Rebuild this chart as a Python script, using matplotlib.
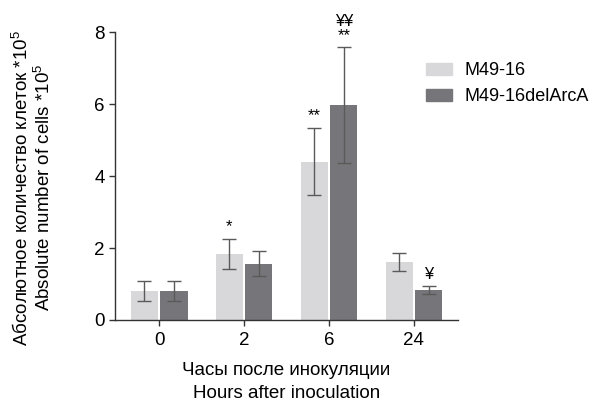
import matplotlib
matplotlib.use("Agg")
import matplotlib.pyplot as plt
import numpy as np
from matplotlib.patches import Patch

plt.rcParams['font.family'] = ['Liberation Sans', 'DejaVu Sans']
plt.rcParams['mathtext.fontset'] = 'custom'
plt.rcParams['mathtext.rm'] = 'Liberation Sans'

categories = ['0', '2', '6', '24']
series_names = ['M49-16', 'M49-16delArcA']
wt_values = [0.80, 1.84, 4.40, 1.62]
wt_err = [0.28, 0.41, 0.93, 0.25]
del_values = [0.80, 1.56, 5.97, 0.84]
del_err = [0.28, 0.35, 1.62, 0.11]
wt_marks = ['', '*', '**', '']
del_marks = ['', '', '**', '¥']
del_marks_top = ['', '', '¥¥', '']

light = '#d8d8da'
dark = '#76767a'
errc = '#5a5a5a'

fig = plt.figure(figsize=(6.03, 4.01), dpi=100)
ax = fig.add_axes([0.1907, 0.202, 0.569, 0.718])

x = np.arange(len(categories))
w = 0.32
off = 0.174
ek = dict(ecolor=errc, elinewidth=1.0, capsize=4.8, capthick=1.0)
ax.bar(x - off, wt_values, w, color=light, yerr=wt_err, error_kw=ek, zorder=2)
ax.bar(x + off, del_values, w, color=dark, yerr=del_err, error_kw=ek, zorder=2)

for i in range(len(categories)):
    if wt_marks[i]:
        ax.text(x[i] - off, wt_values[i] + wt_err[i] + 0.14, wt_marks[i],
                ha='center', va='bottom', fontsize=12)
    if del_marks[i]:
        ax.text(x[i] + off, del_values[i] + del_err[i] + 0.1, del_marks[i],
                ha='center', va='bottom', fontsize=12)
    if del_marks_top[i]:
        ax.text(x[i] + off, del_values[i] + del_err[i] + 0.5, del_marks_top[i],
                ha='center', va='bottom', fontsize=12)

ax.set_xlim(-0.52, 3.52)
ax.set_ylim(0, 8)
ax.set_yticks([0, 2, 4, 6, 8])
ax.set_xticks(x)
ax.set_xticklabels(categories)
ax.tick_params(axis='both', labelsize=13.5, length=4, width=1, color='#333333', direction='out')
ax.tick_params(axis='x', pad=5)
ax.spines['top'].set_visible(False)
ax.spines['right'].set_visible(False)
for s in ['left', 'bottom']:
    ax.spines[s].set_color('#333333')
    ax.spines[s].set_linewidth(1.0)

ax.set_xlabel('Часы после инокуляции\nHours after inoculation', fontsize=13.5, labelpad=9, linespacing=1.45)
ax.set_ylabel('Абсолютное количество клеток *10$^5$\nAbsolute number of cells *10$^5$',
              fontsize=13.5, linespacing=1.05)
ax.yaxis.set_label_coords(-0.178, 0.46)

handles = [Patch(color=light), Patch(color=dark)]
fig.legend(handles, series_names, loc='upper left', bbox_to_anchor=(0.68, 0.885), frameon=False,
           fontsize=13, handlelength=1.4, handleheight=0.7, handletextpad=0.72, labelspacing=0.5)

fig.savefig('out.png', dpi=100)
